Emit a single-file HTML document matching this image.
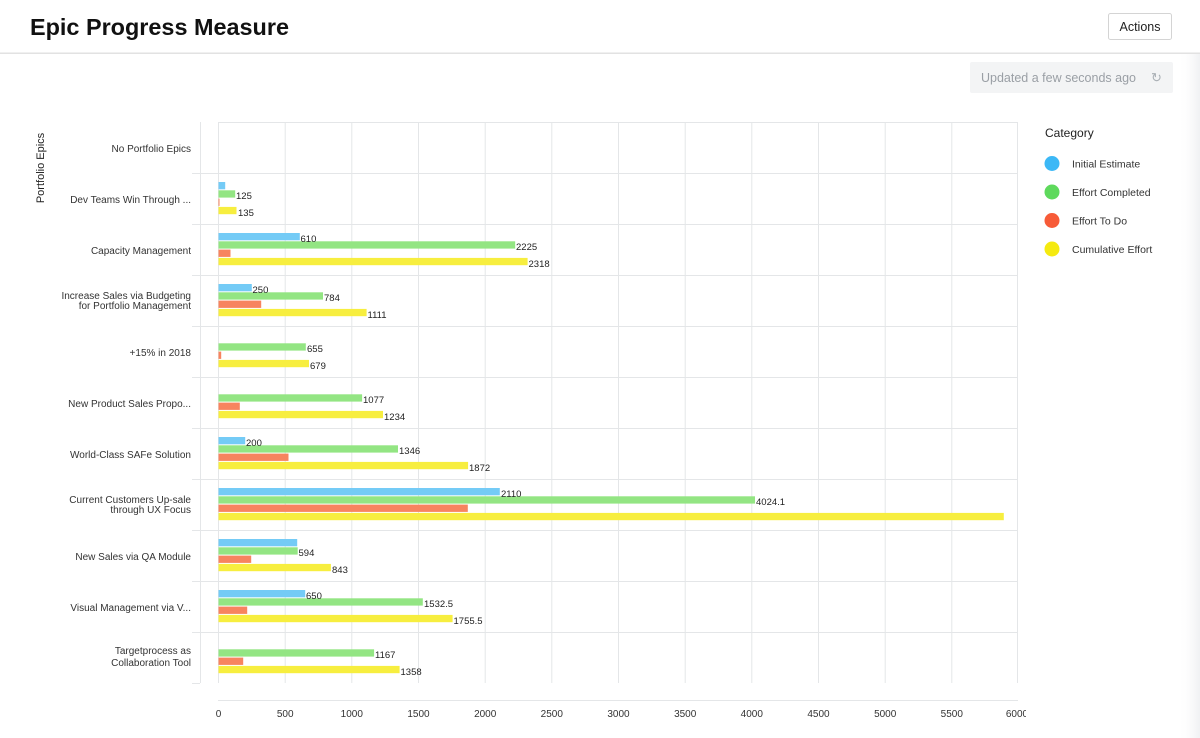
<!DOCTYPE html>
<html><head><meta charset="utf-8"><style>
html,body{margin:0;padding:0;background:#fff;width:1200px;height:738px;overflow:hidden;font-family:"Liberation Sans",sans-serif;}
</style></head><body>
<svg width="1200" height="738" viewBox="0 0 1200 738" xmlns="http://www.w3.org/2000/svg" font-family="Liberation Sans, sans-serif">
<defs><linearGradient id="sh" x1="0" x2="1"><stop offset="0" stop-color="#fff" stop-opacity="0"/><stop offset="1" stop-color="#f0f1f3"/></linearGradient></defs>
<rect x="1178" y="54" width="22" height="684" fill="url(#sh)"/>
<text x="30" y="35" font-size="23.5" font-weight="bold" fill="#111" textLength="259" lengthAdjust="spacingAndGlyphs">Epic Progress Measure</text>
<rect x="1108.5" y="13.5" width="63" height="26" rx="2" fill="#fff" stroke="#d4d4d4"/>
<text x="1140" y="31" font-size="12.5" fill="#222" text-anchor="middle">Actions</text>
<rect x="0" y="52.5" width="1200" height="1.5" fill="#e2e2e2"/>
<rect x="970" y="62" width="203" height="31" rx="2" fill="#f3f4f5"/>
<text x="981" y="82" font-size="12.5" fill="#9a9fa5">Updated a few seconds ago</text>
<text x="1151" y="82" font-size="13" fill="#aab0b5">↻</text>
<text x="1045" y="137" font-size="12" fill="#222">Category</text>
<circle cx="1052" cy="163.5" r="7.5" fill="#3cb8f6"/><text x="1072" y="167.5" font-size="10.5" fill="#333">Initial Estimate</text>
<circle cx="1052" cy="192" r="7.5" fill="#5ed95c"/><text x="1072" y="196" font-size="10.5" fill="#333">Effort Completed</text>
<circle cx="1052" cy="220.5" r="7.5" fill="#f75b38"/><text x="1072" y="224.5" font-size="10.5" fill="#333">Effort To Do</text>
<circle cx="1052" cy="249" r="7.5" fill="#f5ea10"/><text x="1072" y="253" font-size="10.5" fill="#333">Cumulative Effort</text>

<g stroke="#e4e6e8" stroke-width="1">
<line x1="200.5" y1="122" x2="200.5" y2="683"/>
<line x1="218.5" y1="122" x2="218.5" y2="683"/>
<line x1="285.2" y1="122" x2="285.2" y2="683"/>
<line x1="351.8" y1="122" x2="351.8" y2="683"/>
<line x1="418.5" y1="122" x2="418.5" y2="683"/>
<line x1="485.2" y1="122" x2="485.2" y2="683"/>
<line x1="551.8" y1="122" x2="551.8" y2="683"/>
<line x1="618.5" y1="122" x2="618.5" y2="683"/>
<line x1="685.2" y1="122" x2="685.2" y2="683"/>
<line x1="751.8" y1="122" x2="751.8" y2="683"/>
<line x1="818.5" y1="122" x2="818.5" y2="683"/>
<line x1="885.2" y1="122" x2="885.2" y2="683"/>
<line x1="951.8" y1="122" x2="951.8" y2="683"/>
<line x1="1017.5" y1="122" x2="1017.5" y2="683"/>
<line x1="218" y1="122.5" x2="1018" y2="122.5"/>
<line x1="192" y1="173.5" x2="1018" y2="173.5"/>
<line x1="192" y1="224.5" x2="1018" y2="224.5"/>
<line x1="192" y1="275.5" x2="1018" y2="275.5"/>
<line x1="192" y1="326.5" x2="1018" y2="326.5"/>
<line x1="192" y1="377.5" x2="1018" y2="377.5"/>
<line x1="192" y1="428.5" x2="1018" y2="428.5"/>
<line x1="192" y1="479.5" x2="1018" y2="479.5"/>
<line x1="192" y1="530.5" x2="1018" y2="530.5"/>
<line x1="192" y1="581.5" x2="1018" y2="581.5"/>
<line x1="192" y1="632.5" x2="1018" y2="632.5"/>
<line x1="192" y1="683.5" x2="200" y2="683.5"/>
<line x1="218" y1="700.5" x2="1018" y2="700.5"/>
</g>

<g font-size="10" fill="#333" text-anchor="middle">
<text x="218.5" y="717">0</text><text x="285.2" y="717">500</text><text x="351.8" y="717">1000</text><text x="418.5" y="717">1500</text><text x="485.2" y="717">2000</text><text x="551.8" y="717">2500</text><text x="618.5" y="717">3000</text><text x="685.2" y="717">3500</text><text x="751.8" y="717">4000</text><text x="818.5" y="717">4500</text><text x="885.2" y="717">5000</text><text x="951.8" y="717">5500</text><text x="1017" y="717">6000</text>
</g>
<rect x="1026" y="700" width="30" height="25" fill="#fff"/>

<text transform="translate(44,168) rotate(-90)" font-size="11" fill="#222" text-anchor="middle">Portfolio Epics</text>
<g font-size="10" fill="#333" text-anchor="end">
<text x="191" y="152">No Portfolio Epics</text>
<text x="191" y="203">Dev Teams Win Through ...</text>
<text x="191" y="254">Capacity Management</text>
<text x="191" y="299">Increase Sales via Budgeting</text>
<text x="191" y="309">for Portfolio Management</text>
<text x="191" y="356">+15% in 2018</text>
<text x="191" y="407">New Product Sales Propo...</text>
<text x="191" y="458">World-Class SAFe Solution</text>
<text x="191" y="503">Current Customers Up-sale</text>
<text x="191" y="513">through UX Focus</text>
<text x="191" y="560">New Sales via QA Module</text>
<text x="191" y="611">Visual Management via V...</text>
<text x="191" y="654">Targetprocess as</text>
<text x="191" y="666">Collaboration Tool</text>
</g>

<g>
<g fill="#74cbf6">
<rect x="218.5" y="182" width="6.7" height="7.3"/>
<rect x="218.5" y="233" width="81.3" height="7.3"/>
<rect x="218.5" y="284" width="33.3" height="7.3"/>
<rect x="218.5" y="437" width="26.7" height="7.3"/>
<rect x="218.5" y="488" width="281.3" height="7.3"/>
<rect x="218.5" y="539" width="78.7" height="7.3"/>
<rect x="218.5" y="590" width="86.7" height="7.3"/>
</g>
<g fill="#93e583">
<rect x="218.5" y="190.3" width="16.7" height="7.3"/>
<rect x="218.5" y="241.3" width="296.7" height="7.3"/>
<rect x="218.5" y="292.3" width="104.5" height="7.3"/>
<rect x="218.5" y="343.3" width="87.3" height="7.3"/>
<rect x="218.5" y="394.3" width="143.6" height="7.3"/>
<rect x="218.5" y="445.3" width="179.5" height="7.3"/>
<rect x="218.5" y="496.3" width="536.5" height="7.3"/>
<rect x="218.5" y="547.3" width="79.2" height="7.3"/>
<rect x="218.5" y="598.3" width="204.3" height="7.3"/>
<rect x="218.5" y="649.3" width="155.6" height="7.3"/>
</g>
<g fill="#f7845f">
<rect x="218.5" y="198.6" width="1" height="7.3"/>
<rect x="218.5" y="249.6" width="12" height="7.3"/>
<rect x="218.5" y="300.6" width="42.7" height="7.3"/>
<rect x="218.5" y="351.6" width="2.7" height="7.3"/>
<rect x="218.5" y="402.6" width="21.3" height="7.3"/>
<rect x="218.5" y="453.6" width="70" height="7.3"/>
<rect x="218.5" y="504.6" width="249.3" height="7.3"/>
<rect x="218.5" y="555.6" width="32.7" height="7.3"/>
<rect x="218.5" y="606.6" width="28.7" height="7.3"/>
<rect x="218.5" y="657.6" width="24.7" height="7.3"/>
</g>
<g fill="#f7ee3f">
<rect x="218.5" y="206.9" width="18" height="7.3"/>
<rect x="218.5" y="257.9" width="309.1" height="7.3"/>
<rect x="218.5" y="308.9" width="148.1" height="7.3"/>
<rect x="218.5" y="359.9" width="90.5" height="7.3"/>
<rect x="218.5" y="410.9" width="164.5" height="7.3"/>
<rect x="218.5" y="461.9" width="249.6" height="7.3"/>
<rect x="218.5" y="512.9" width="785.3" height="7.3"/>
<rect x="218.5" y="563.9" width="112.4" height="7.3"/>
<rect x="218.5" y="614.9" width="234.1" height="7.3"/>
<rect x="218.5" y="665.9" width="181.1" height="7.3"/>
</g>
</g>

<g font-size="9.5" fill="#222">
<text x="236" y="199">125</text>
<text x="238" y="216">135</text>
<text x="300.5" y="242">610</text>
<text x="516" y="250">2225</text>
<text x="528.5" y="267">2318</text>
<text x="252.5" y="293">250</text>
<text x="324" y="301">784</text>
<text x="367.5" y="318">1111</text>
<text x="307" y="352">655</text>
<text x="310" y="369">679</text>
<text x="363" y="403">1077</text>
<text x="384" y="420">1234</text>
<text x="246" y="446">200</text>
<text x="399" y="454">1346</text>
<text x="469" y="471">1872</text>
<text x="501" y="497">2110</text>
<text x="756" y="505">4024.1</text>
<text x="298.5" y="556">594</text>
<text x="332" y="573">843</text>
<text x="306" y="599">650</text>
<text x="424" y="607">1532.5</text>
<text x="453.5" y="624">1755.5</text>
<text x="375" y="658">1167</text>
<text x="400.5" y="675">1358</text>
</g>
</svg>
</body></html>
